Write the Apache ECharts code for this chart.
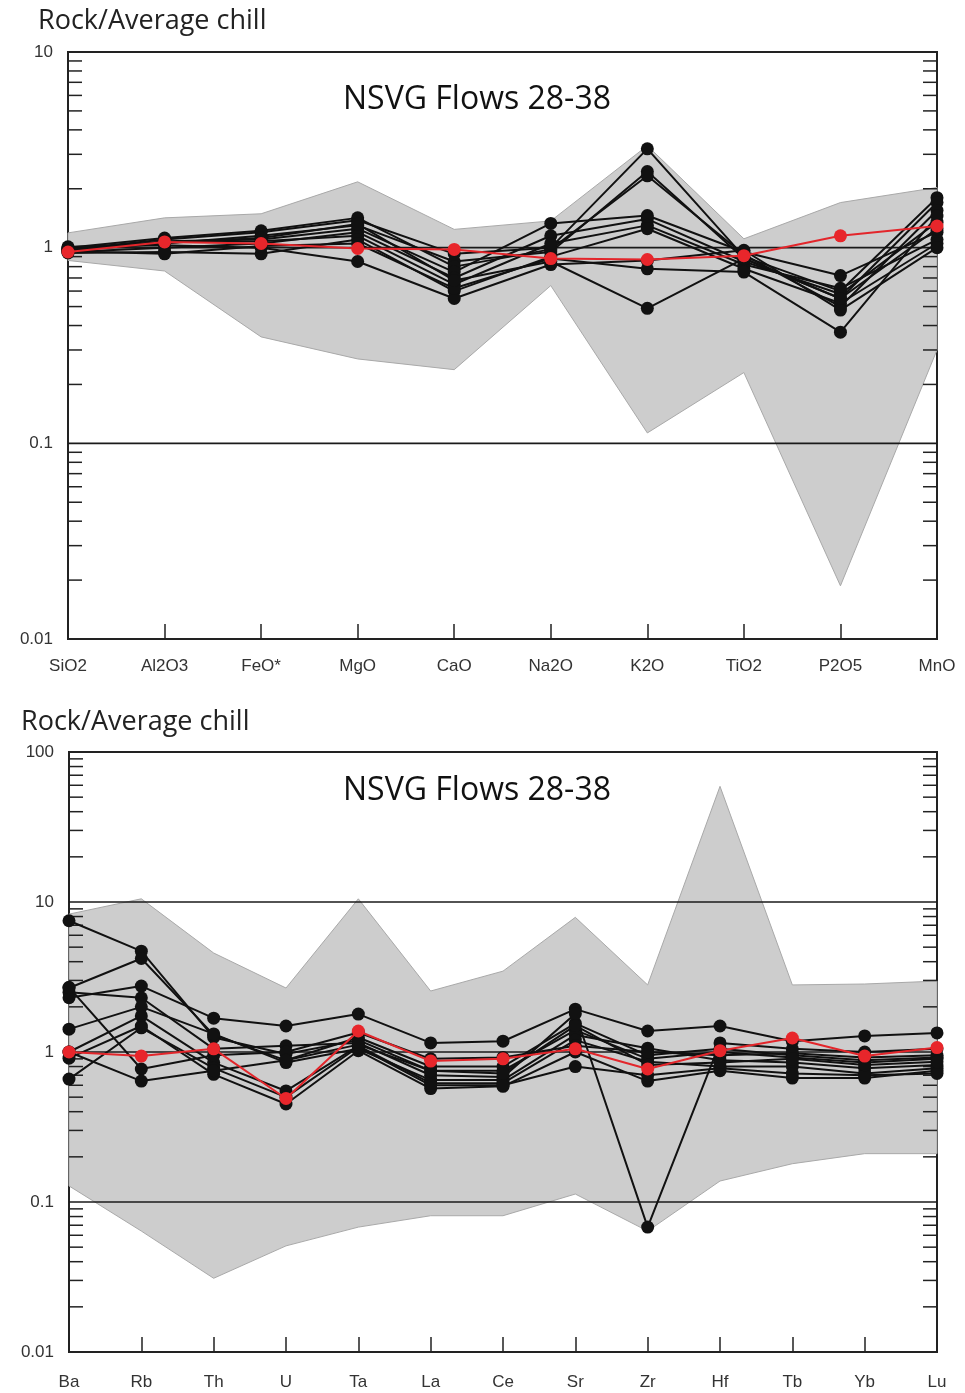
<!DOCTYPE html>
<html>
<head>
<meta charset="utf-8">
<script src="https://cdn.jsdelivr.net/npm/echarts@6/dist/echarts.min.js"></script>
<style>
html,body{margin:0;padding:0;background:#fff;}
#c{width:965px;height:1393px;}
</style>
</head>
<body>
<div id="c"></div>
<script>
// ---------- Top chart: major elements ----------
const TOP_CATS = ['SiO2','Al2O3','FeO*','MgO','CaO','Na2O','K2O','TiO2','P2O5','MnO'];
const TOP_UPPER = [1.19, 1.42, 1.49, 2.17, 1.24, 1.37, 3.32, 1.11, 1.70, 2.03];
const TOP_LOWER = [0.86, 0.76, 0.35, 0.27, 0.238, 0.64, 0.113, 0.23, 0.0187, 0.30];
const TOP_S1  = [0.98, 1.10, 1.20, 1.38, 0.93, 1.00, 3.20, 0.90, 0.60, 1.80];
const TOP_S2  = [0.97, 1.05, 1.15, 1.30, 0.85, 0.95, 2.45, 0.88, 0.55, 1.70];
const TOP_S3  = [1.00, 1.12, 1.22, 1.42, 0.80, 0.98, 2.33, 0.92, 0.50, 1.55];
const TOP_S4  = [0.96, 1.08, 1.10, 1.25, 0.75, 1.33, 1.46, 0.95, 0.72, 1.20];
const TOP_S5  = [0.95, 1.00, 1.05, 1.20, 0.70, 1.15, 1.40, 0.85, 0.58, 1.35];
const TOP_S6  = [0.99, 1.07, 1.08, 1.15, 0.65, 1.05, 1.30, 0.82, 0.62, 1.10];
const TOP_S7  = [0.94, 0.95, 0.93, 1.10, 0.60, 0.90, 1.25, 0.78, 0.52, 1.05];
const TOP_S8  = [1.01, 1.03, 1.00, 0.85, 0.55, 0.82, 0.86, 0.97, 0.48, 1.00];
const TOP_S9  = [0.96, 0.93, 1.02, 1.05, 0.62, 0.88, 0.78, 0.75, 0.37, 1.45];
const TOP_S10 = [0.98, 1.06, 1.12, 1.32, 0.68, 0.85, 0.49, 0.88, 0.55, 1.25];
const TOP_RED = [0.95, 1.07, 1.05, 0.99, 0.98, 0.88, 0.87, 0.91, 1.15, 1.29];
const TOP_GRIDLINES = [1, 0.1];
const TOP_DECADES = [0.01, 0.1, 1];

// ---------- Bottom chart: trace elements ----------
const BOT_CATS = ['Ba','Rb','Th','U','Ta','La','Ce','Sr','Zr','Hf','Tb','Yb','Lu'];
const BOT_UPPER = [8.3, 10.5, 4.57, 2.67, 10.5, 2.55, 3.46, 7.9, 2.8, 59, 2.8, 2.84, 2.97];
const BOT_LOWER = [0.128, 0.064, 0.031, 0.051, 0.068, 0.081, 0.081, 0.113, 0.064, 0.138, 0.18, 0.21, 0.21];
const BOT_S1  = [7.5, 4.7, 1.25, 0.97, 1.20, 0.75, 0.75, 1.40, 0.90, 1.00, 0.92, 0.85, 0.90];
const BOT_S2  = [2.67, 4.2, 1.30, 0.88, 1.25, 0.80, 0.80, 1.55, 0.95, 1.05, 0.95, 0.88, 0.92];
const BOT_S3  = [2.3, 2.75, 1.68, 1.49, 1.79, 1.15, 1.18, 1.93, 1.38, 1.49, 1.18, 1.28, 1.34];
const BOT_S4  = [2.5, 2.3, 1.05, 1.10, 1.15, 0.70, 0.68, 1.80, 0.068, 1.15, 1.05, 1.00, 1.05];
const BOT_S5  = [1.42, 2.0, 1.32, 0.85, 1.05, 0.65, 0.65, 1.30, 1.06, 0.88, 0.85, 0.78, 0.82];
const BOT_S6  = [1.0, 1.74, 0.85, 0.55, 1.10, 0.62, 0.62, 1.20, 0.86, 0.80, 0.80, 0.72, 0.78];
const BOT_S7  = [0.91, 1.49, 0.71, 0.45, 1.02, 0.57, 0.59, 1.00, 0.64, 0.75, 0.67, 0.67, 0.75];
const BOT_S8  = [0.66, 1.45, 0.78, 0.50, 1.08, 0.60, 0.60, 0.80, 0.70, 0.78, 0.72, 0.70, 0.72];
const BOT_S9  = [2.7, 0.77, 0.95, 1.00, 1.35, 0.90, 0.92, 1.10, 1.00, 0.95, 0.98, 0.92, 0.95];
const BOT_S10 = [1.0, 0.64, 0.75, 0.88, 1.12, 0.75, 0.72, 1.50, 0.82, 0.85, 0.90, 0.82, 0.86];
const BOT_RED = [1.0, 0.94, 1.05, 0.49, 1.38, 0.87, 0.90, 1.05, 0.77, 1.02, 1.24, 0.94, 1.07];
const BOT_GRIDLINES = [10, 1, 0.1];
const BOT_DECADES = [0.01, 0.1, 1, 10];

const MINOR_MULTS = [2,3,4,5,6,7,8,9];

const TOP_BLACK = [TOP_S1,TOP_S2,TOP_S3,TOP_S4,TOP_S5,TOP_S6,TOP_S7,TOP_S8,TOP_S9,TOP_S10];
const BOT_BLACK = [BOT_S1,BOT_S2,BOT_S3,BOT_S4,BOT_S5,BOT_S6,BOT_S7,BOT_S8,BOT_S9,BOT_S10];

function envelope(upper, lower, gridVals, decades) {
  return function (params, api) {
    const n = upper.length;
    const pts = [];
    for (let i = 0; i < n; i++) pts.push(api.coord([i, upper[i]]));
    for (let i = n - 1; i >= 0; i--) pts.push(api.coord([i, lower[i]]));
    const children = [{
      type: 'polygon', shape: { points: pts },
      style: { fill: '#cdcdcd', stroke: '#a9a9a9', lineWidth: 1 }
    }];
    gridVals.forEach(v => {
      const a = api.coord([0, v]), b = api.coord([n - 1, v]);
      children.push({ type: 'line', shape: { x1: a[0], y1: a[1], x2: b[0], y2: b[1] },
        style: { stroke: '#1a1a1a', lineWidth: 1.6 } });
    });
    const xl = api.coord([0, 1])[0], xr = api.coord([n - 1, 1])[0];
    decades.forEach(d => {
      MINOR_MULTS.forEach(m => {
        const y = api.coord([0, d * m])[1];
        children.push({ type: 'line', shape: { x1: xl, y1: y, x2: xl + 14, y2: y }, style: { stroke: '#222', lineWidth: 1.5 } });
        children.push({ type: 'line', shape: { x1: xr - 14, y1: y, x2: xr, y2: y }, style: { stroke: '#222', lineWidth: 1.5 } });
      });
    });
    return { type: 'group', children: children };
  };
}

const FONT = 'Liberation Sans, Arial, sans-serif';

function blackSeries(data, xi, yi) {
  return {
    type: 'line', xAxisIndex: xi, yAxisIndex: yi, data: data,
    symbol: 'circle', symbolSize: 13, z: 3,
    lineStyle: { color: '#111', width: 2 },
    itemStyle: { color: '#111' }, silent: true
  };
}
function redSeries(data, xi, yi) {
  return {
    type: 'line', xAxisIndex: xi, yAxisIndex: yi, data: data,
    symbol: 'circle', symbolSize: 13, z: 4,
    lineStyle: { color: '#e3262b', width: 2 },
    itemStyle: { color: '#e8262b' }, silent: true
  };
}

const series = [
  { type: 'custom', xAxisIndex: 0, yAxisIndex: 0, data: [[0, 1]], z: 1, silent: true,
    renderItem: envelope(TOP_UPPER, TOP_LOWER, TOP_GRIDLINES, TOP_DECADES) },
  { type: 'custom', xAxisIndex: 1, yAxisIndex: 1, data: [[0, 1]], z: 1, silent: true,
    renderItem: envelope(BOT_UPPER, BOT_LOWER, BOT_GRIDLINES, BOT_DECADES) }
];
TOP_BLACK.forEach(d => series.push(blackSeries(d, 0, 0)));
series.push(redSeries(TOP_RED, 0, 0));
BOT_BLACK.forEach(d => series.push(blackSeries(d, 1, 1)));
series.push(redSeries(BOT_RED, 1, 1));

function xAxisCfg(cats, gi, margin) {
  return {
    type: 'category', gridIndex: gi, data: cats, boundaryGap: false,
    axisLine: { lineStyle: { color: '#222', width: 2 } },
    axisTick: { inside: true, length: 15, lineStyle: { color: '#222', width: 1.5 } },
    axisLabel: { color: '#333', fontSize: 17, fontFamily: FONT, margin: margin },
    splitLine: { show: false }
  };
}
function yAxisCfg(gi, max) {
  return {
    type: 'log', logBase: 10, gridIndex: gi, min: 0.01, max: max,
    axisLine: { show: true, lineStyle: { color: '#222', width: 2 } },
    axisTick: { show: false },
    splitLine: { show: false },
    axisLabel: { color: '#333', fontSize: 17, fontFamily: FONT, margin: 15 }
  };
}

const TITLE_FONT = 'Open Sans, sans-serif';
const chart = echarts.init(document.getElementById('c'), null, { renderer: 'canvas' });
chart.setOption({
  animation: false,
  backgroundColor: '#fff',
  title: [
    { text: 'Rock/Average chill', left: 33, top: 3,
      textStyle: { fontFamily: TITLE_FONT, fontWeight: 'normal', fontSize: 27, color: '#222' } },
    { text: 'Rock/Average chill', left: 16, top: 704,
      textStyle: { fontFamily: TITLE_FONT, fontWeight: 'normal', fontSize: 27, color: '#222' } },
    { text: 'NSVG Flows 28-38', left: 338, top: 79,
      textStyle: { fontFamily: TITLE_FONT, fontWeight: 'normal', fontSize: 32, color: '#111' } },
    { text: 'NSVG Flows 28-38', left: 338, top: 770,
      textStyle: { fontFamily: TITLE_FONT, fontWeight: 'normal', fontSize: 32, color: '#111' } }
  ],
  grid: [
    { left: 68, right: 28, top: 52, bottom: 754, show: true, borderColor: '#222', borderWidth: 2, backgroundColor: 'transparent' },
    { left: 69, right: 28, top: 752, bottom: 41, show: true, borderColor: '#222', borderWidth: 2, backgroundColor: 'transparent' }
  ],
  xAxis: [xAxisCfg(TOP_CATS, 0, 19), xAxisCfg(BOT_CATS, 1, 22)],
  yAxis: [yAxisCfg(0, 10), yAxisCfg(1, 100)],
  series: series
});
</script>
</body>
</html>
